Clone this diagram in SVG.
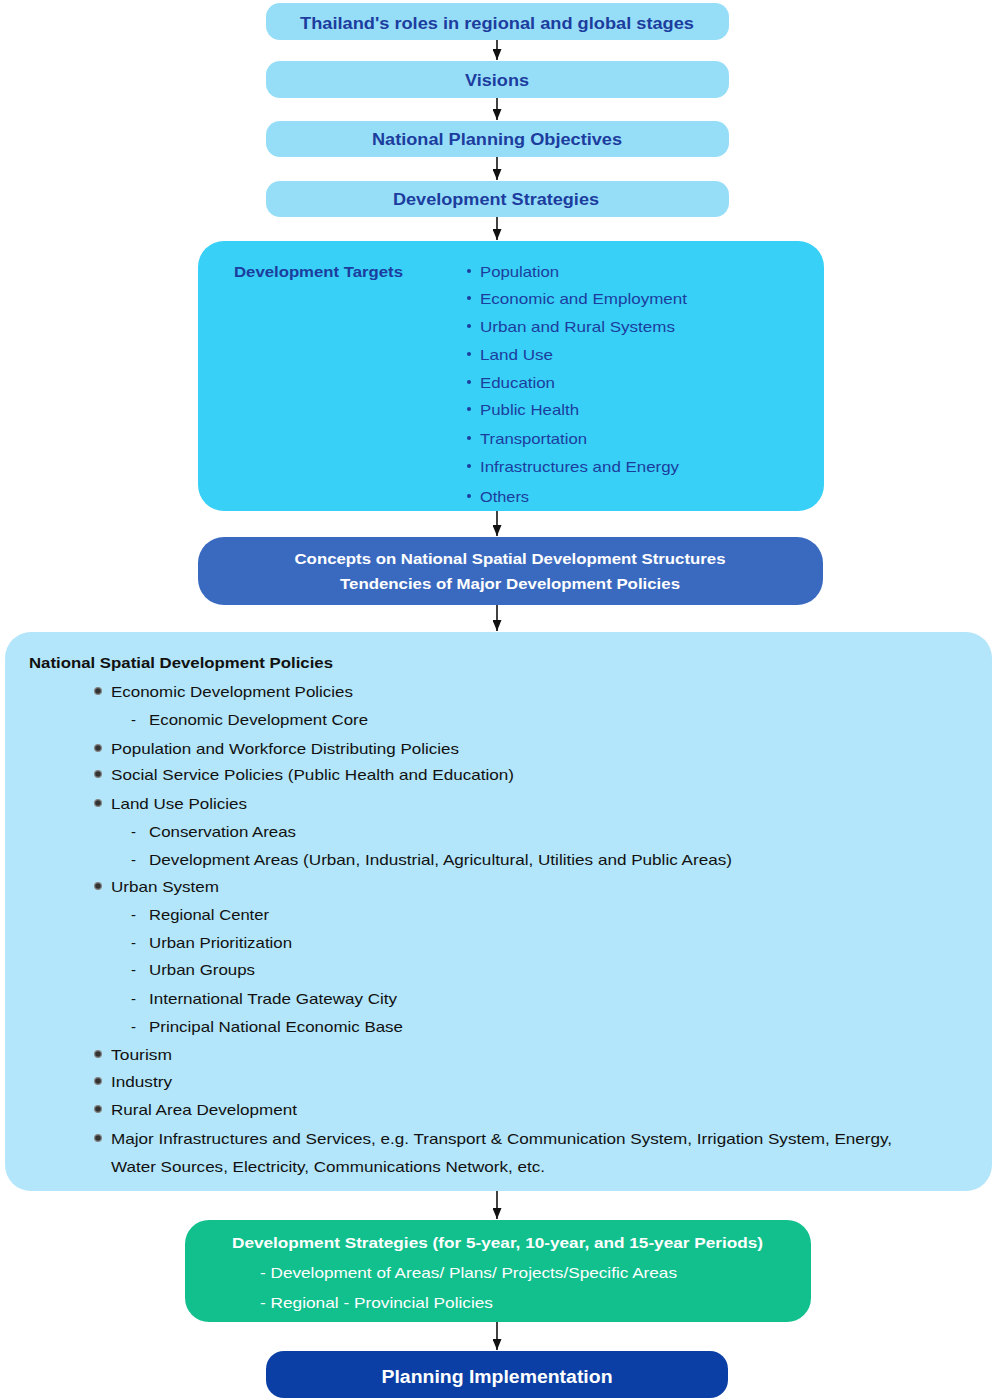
<svg xmlns="http://www.w3.org/2000/svg" width="1000" height="1400" viewBox="0 0 1000 1400">
<defs>
<marker id="ah" markerWidth="11" markerHeight="9" refX="11" refY="4.5" orient="auto" markerUnits="userSpaceOnUse" viewBox="0 0 11 9">
<path d="M0,0 L11,4.5 L0,9 Z" fill="#111"/>
</marker>
</defs>
<style>
.t{font-family:"Liberation Sans",Arial,sans-serif}
.hd{font-weight:bold;font-size:16px;fill:#1C3D9E;text-anchor:middle}
.tg{font-size:15px;fill:#1C3D9E}
.wb{font-weight:bold;font-size:15px;fill:#fff}
.bk{font-size:15px;fill:#111}
.conn line{stroke:#111;stroke-width:1.6;marker-end:url(#ah)}
</style>
<rect width="1000" height="1400" fill="#fff"/>

<g id="connectors" class="conn">
<line x1="497" y1="40" x2="497" y2="60"/>
<line x1="497" y1="98" x2="497" y2="120"/>
<line x1="497" y1="157" x2="497" y2="180"/>
<line x1="497" y1="217" x2="497" y2="240"/>
<line x1="497" y1="511" x2="497" y2="536"/>
<line x1="497" y1="605" x2="497" y2="631"/>
<line x1="497" y1="1191" x2="497" y2="1219"/>
<line x1="497" y1="1322" x2="497" y2="1350"/>
</g>

<g id="n-roles">
<rect x="266" y="3" width="463" height="37" rx="14" fill="#96DEF8"/>
<text class="t hd" x="497" y="29" textLength="394" lengthAdjust="spacingAndGlyphs">Thailand's roles in regional and global stages</text>
</g>
<g id="n-visions">
<rect x="266" y="61" width="463" height="37" rx="14" fill="#96DEF8"/>
<text class="t hd" x="497" y="86" textLength="64" lengthAdjust="spacingAndGlyphs">Visions</text>
</g>
<g id="n-objectives">
<rect x="266" y="121" width="463" height="36" rx="14" fill="#96DEF8"/>
<text class="t hd" x="497" y="145" textLength="250" lengthAdjust="spacingAndGlyphs">National Planning Objectives</text>
</g>
<g id="n-strategies">
<rect x="266" y="181" width="463" height="36" rx="14" fill="#96DEF8"/>
<text class="t hd" x="496" y="205" textLength="206" lengthAdjust="spacingAndGlyphs">Development Strategies</text>
</g>

<g id="n-targets">
<rect x="198" y="241" width="626" height="270" rx="26" fill="#38D0F6"/>
<text class="t tg" x="234" y="277" font-weight="bold" textLength="169" lengthAdjust="spacingAndGlyphs">Development Targets</text>
<g fill="#1C3D9E">
<circle cx="469" cy="271" r="2"/><circle cx="469" cy="298" r="2"/><circle cx="469" cy="326" r="2"/>
<circle cx="469" cy="354" r="2"/><circle cx="469" cy="382" r="2"/><circle cx="469" cy="409" r="2"/>
<circle cx="469" cy="438" r="2"/><circle cx="469" cy="466" r="2"/><circle cx="469" cy="496" r="2"/>
</g>
<text class="t tg" x="480" y="277" textLength="79" lengthAdjust="spacingAndGlyphs">Population</text>
<text class="t tg" x="480" y="304" textLength="207" lengthAdjust="spacingAndGlyphs">Economic and Employment</text>
<text class="t tg" x="480" y="332" textLength="195" lengthAdjust="spacingAndGlyphs">Urban and Rural Systems</text>
<text class="t tg" x="480" y="360" textLength="73" lengthAdjust="spacingAndGlyphs">Land Use</text>
<text class="t tg" x="480" y="388" textLength="75" lengthAdjust="spacingAndGlyphs">Education</text>
<text class="t tg" x="480" y="415" textLength="99" lengthAdjust="spacingAndGlyphs">Public Health</text>
<text class="t tg" x="480" y="444" textLength="107" lengthAdjust="spacingAndGlyphs">Transportation</text>
<text class="t tg" x="480" y="472" textLength="199" lengthAdjust="spacingAndGlyphs">Infrastructures and Energy</text>
<text class="t tg" x="480" y="502" textLength="49" lengthAdjust="spacingAndGlyphs">Others</text>
</g>

<g id="n-concepts">
<rect x="198" y="537" width="625" height="68" rx="26" fill="#3A69C0"/>
<text class="t wb" x="510" y="564" text-anchor="middle" textLength="431" lengthAdjust="spacingAndGlyphs">Concepts on National Spatial Development Structures</text>
<text class="t wb" x="510" y="589" text-anchor="middle" textLength="340" lengthAdjust="spacingAndGlyphs">Tendencies of Major Development Policies</text>
</g>

<g id="n-policies">
<rect x="5" y="632" width="987" height="559" rx="26" fill="#B3E6FA"/>
<text class="t bk" x="29" y="668" font-weight="bold" textLength="304" lengthAdjust="spacingAndGlyphs">National Spatial Development Policies</text>
<g fill="#333" stroke="#888" stroke-width="1.2">
<circle cx="98" cy="691" r="3.4"/><circle cx="98" cy="748" r="3.4"/><circle cx="98" cy="774" r="3.4"/>
<circle cx="98" cy="803" r="3.4"/><circle cx="98" cy="886" r="3.4"/><circle cx="98" cy="1054" r="3.4"/>
<circle cx="98" cy="1081" r="3.4"/><circle cx="98" cy="1109" r="3.4"/><circle cx="98" cy="1138" r="3.4"/>
</g>
<g class="t bk">
<text x="111" y="697" textLength="242" lengthAdjust="spacingAndGlyphs">Economic Development Policies</text>
<text x="131" y="725">-</text>
<text x="149" y="725" textLength="219" lengthAdjust="spacingAndGlyphs">Economic Development Core</text>
<text x="111" y="754" textLength="348" lengthAdjust="spacingAndGlyphs">Population and Workforce Distributing Policies</text>
<text x="111" y="780" textLength="403" lengthAdjust="spacingAndGlyphs">Social Service Policies (Public Health and Education)</text>
<text x="111" y="809" textLength="136" lengthAdjust="spacingAndGlyphs">Land Use Policies</text>
<text x="131" y="837">-</text>
<text x="149" y="837" textLength="147" lengthAdjust="spacingAndGlyphs">Conservation Areas</text>
<text x="131" y="865">-</text>
<text x="149" y="865" textLength="583" lengthAdjust="spacingAndGlyphs">Development Areas (Urban, Industrial, Agricultural, Utilities and Public Areas)</text>
<text x="111" y="892" textLength="108" lengthAdjust="spacingAndGlyphs">Urban System</text>
<text x="131" y="920">-</text>
<text x="149" y="920" textLength="120" lengthAdjust="spacingAndGlyphs">Regional Center</text>
<text x="131" y="948">-</text>
<text x="149" y="948" textLength="143" lengthAdjust="spacingAndGlyphs">Urban Prioritization</text>
<text x="131" y="975">-</text>
<text x="149" y="975" textLength="106" lengthAdjust="spacingAndGlyphs">Urban Groups</text>
<text x="131" y="1004">-</text>
<text x="149" y="1004" textLength="248" lengthAdjust="spacingAndGlyphs">International Trade Gateway City</text>
<text x="131" y="1032">-</text>
<text x="149" y="1032" textLength="254" lengthAdjust="spacingAndGlyphs">Principal National Economic Base</text>
<text x="111" y="1060" textLength="61" lengthAdjust="spacingAndGlyphs">Tourism</text>
<text x="111" y="1087" textLength="61" lengthAdjust="spacingAndGlyphs">Industry</text>
<text x="111" y="1115" textLength="186" lengthAdjust="spacingAndGlyphs">Rural Area Development</text>
<text x="111" y="1144" textLength="781" lengthAdjust="spacingAndGlyphs">Major Infrastructures and Services, e.g. Transport &amp; Communication System, Irrigation System, Energy,</text>
<text x="111" y="1172" textLength="434" lengthAdjust="spacingAndGlyphs">Water Sources, Electricity, Communications Network, etc.</text>
</g>
</g>

<g id="n-periods">
<rect x="185" y="1220" width="626" height="102" rx="24" fill="#12C08E"/>
<text class="t wb" x="232" y="1248" textLength="531" lengthAdjust="spacingAndGlyphs">Development Strategies (for 5-year, 10-year, and 15-year Periods)</text>
<text class="t" x="260" y="1278" font-size="15" fill="#fff" textLength="417" lengthAdjust="spacingAndGlyphs">- Development of Areas/ Plans/ Projects/Specific Areas</text>
<text class="t" x="260" y="1308" font-size="15" fill="#fff" textLength="233" lengthAdjust="spacingAndGlyphs">- Regional - Provincial Policies</text>
</g>

<g id="n-implementation">
<rect x="266" y="1351" width="462" height="47" rx="18" fill="#0B3FA5"/>
<text class="t" x="497" y="1383" font-size="18" font-weight="bold" fill="#fff" text-anchor="middle" textLength="231" lengthAdjust="spacingAndGlyphs">Planning Implementation</text>
</g>
</svg>
